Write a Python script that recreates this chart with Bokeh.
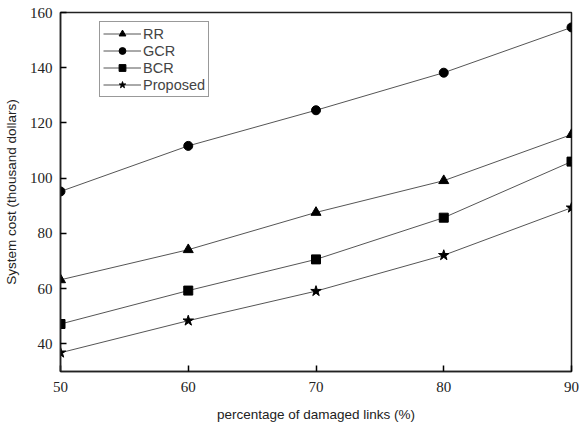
from bokeh.plotting import figure
from bokeh.models import Legend, LegendItem, Range1d, FixedTicker
from bokeh.embed import file_html
from bokeh.resources import INLINE

x_vals = [50, 60, 70, 80, 90]
rr = [63.2, 74.1, 87.6, 99.1, 115.8]
gcr = [95.2, 111.7, 124.6, 138.2, 154.6]
bcr = [47.2, 59.3, 70.6, 85.7, 106.0]
proposed = [36.8, 48.4, 59.1, 72.1, 89.3]
series_names = ["RR", "GCR", "BCR", "Proposed"]
markers = ["triangle", "circle", "square", "star"]
y_ticks = [40, 60, 80, 100, 120, 140, 160]
x_ticks = [50, 60, 70, 80, 90]

p = figure(width=579, height=426, output_backend="svg", toolbar_location=None,
           x_range=Range1d(50, 90), y_range=Range1d(30, 160),
           min_border_left=60, min_border_right=8, min_border_top=12, min_border_bottom=55)
p.outline_line_color = "#222222"
p.outline_line_width = 1.5
p.grid.visible = False

for ax in (p.xaxis[0], p.yaxis[0]):
    ax.major_tick_in = 6
    ax.major_tick_out = 0
    ax.minor_tick_in = 0
    ax.minor_tick_out = 0
    ax.axis_line_color = "#222222"
    ax.axis_line_width = 1.5
    ax.major_tick_line_width = 1.5
    ax.major_label_text_font = "Liberation Serif"
    ax.major_label_text_font_size = "15px"
    ax.major_label_text_color = "#222222"
    ax.axis_label_text_font = "Liberation Sans"
    ax.axis_label_text_font_size = "13.5px"
    ax.axis_label_text_font_style = "normal"
    ax.axis_label_text_color = "#222222"

p.xaxis.ticker = FixedTicker(ticks=x_ticks)
p.yaxis.ticker = FixedTicker(ticks=y_ticks)
p.xaxis.axis_label = "percentage of damaged links (%)"
p.yaxis.axis_label = "System cost (thousand dollars)"
p.xaxis.major_label_standoff = 10
p.xaxis.axis_label_standoff = 12
p.yaxis.major_label_standoff = 8
p.yaxis.axis_label_standoff = 8

items = []
for name, ys, mk in zip(series_names, [rr, gcr, bcr, proposed], markers):
    l = p.line(x_vals, ys, line_color="#555555", line_width=1)
    sz = 11 if mk == "star" else (10 if mk == "triangle" else 9)
    m = p.scatter(x_vals, ys, marker=mk, size=sz, fill_color="black", line_color="black")
    items.append(LegendItem(label=name, renderers=[l, m]))

legend = Legend(items=items, location=(39, 274))
legend.border_line_color = "#333333"
legend.border_line_width = 1
legend.label_text_font = "Liberation Sans"
legend.label_text_font_size = "14.5px"
legend.label_height = 17
legend.glyph_height = 17
legend.glyph_width = 38
legend.spacing = 0
legend.padding = 3
legend.margin = 0
legend.label_standoff = 2
legend.background_fill_alpha = 1
p.add_layout(legend, "center")

open("out.html", "w").write(file_html(p, INLINE))
